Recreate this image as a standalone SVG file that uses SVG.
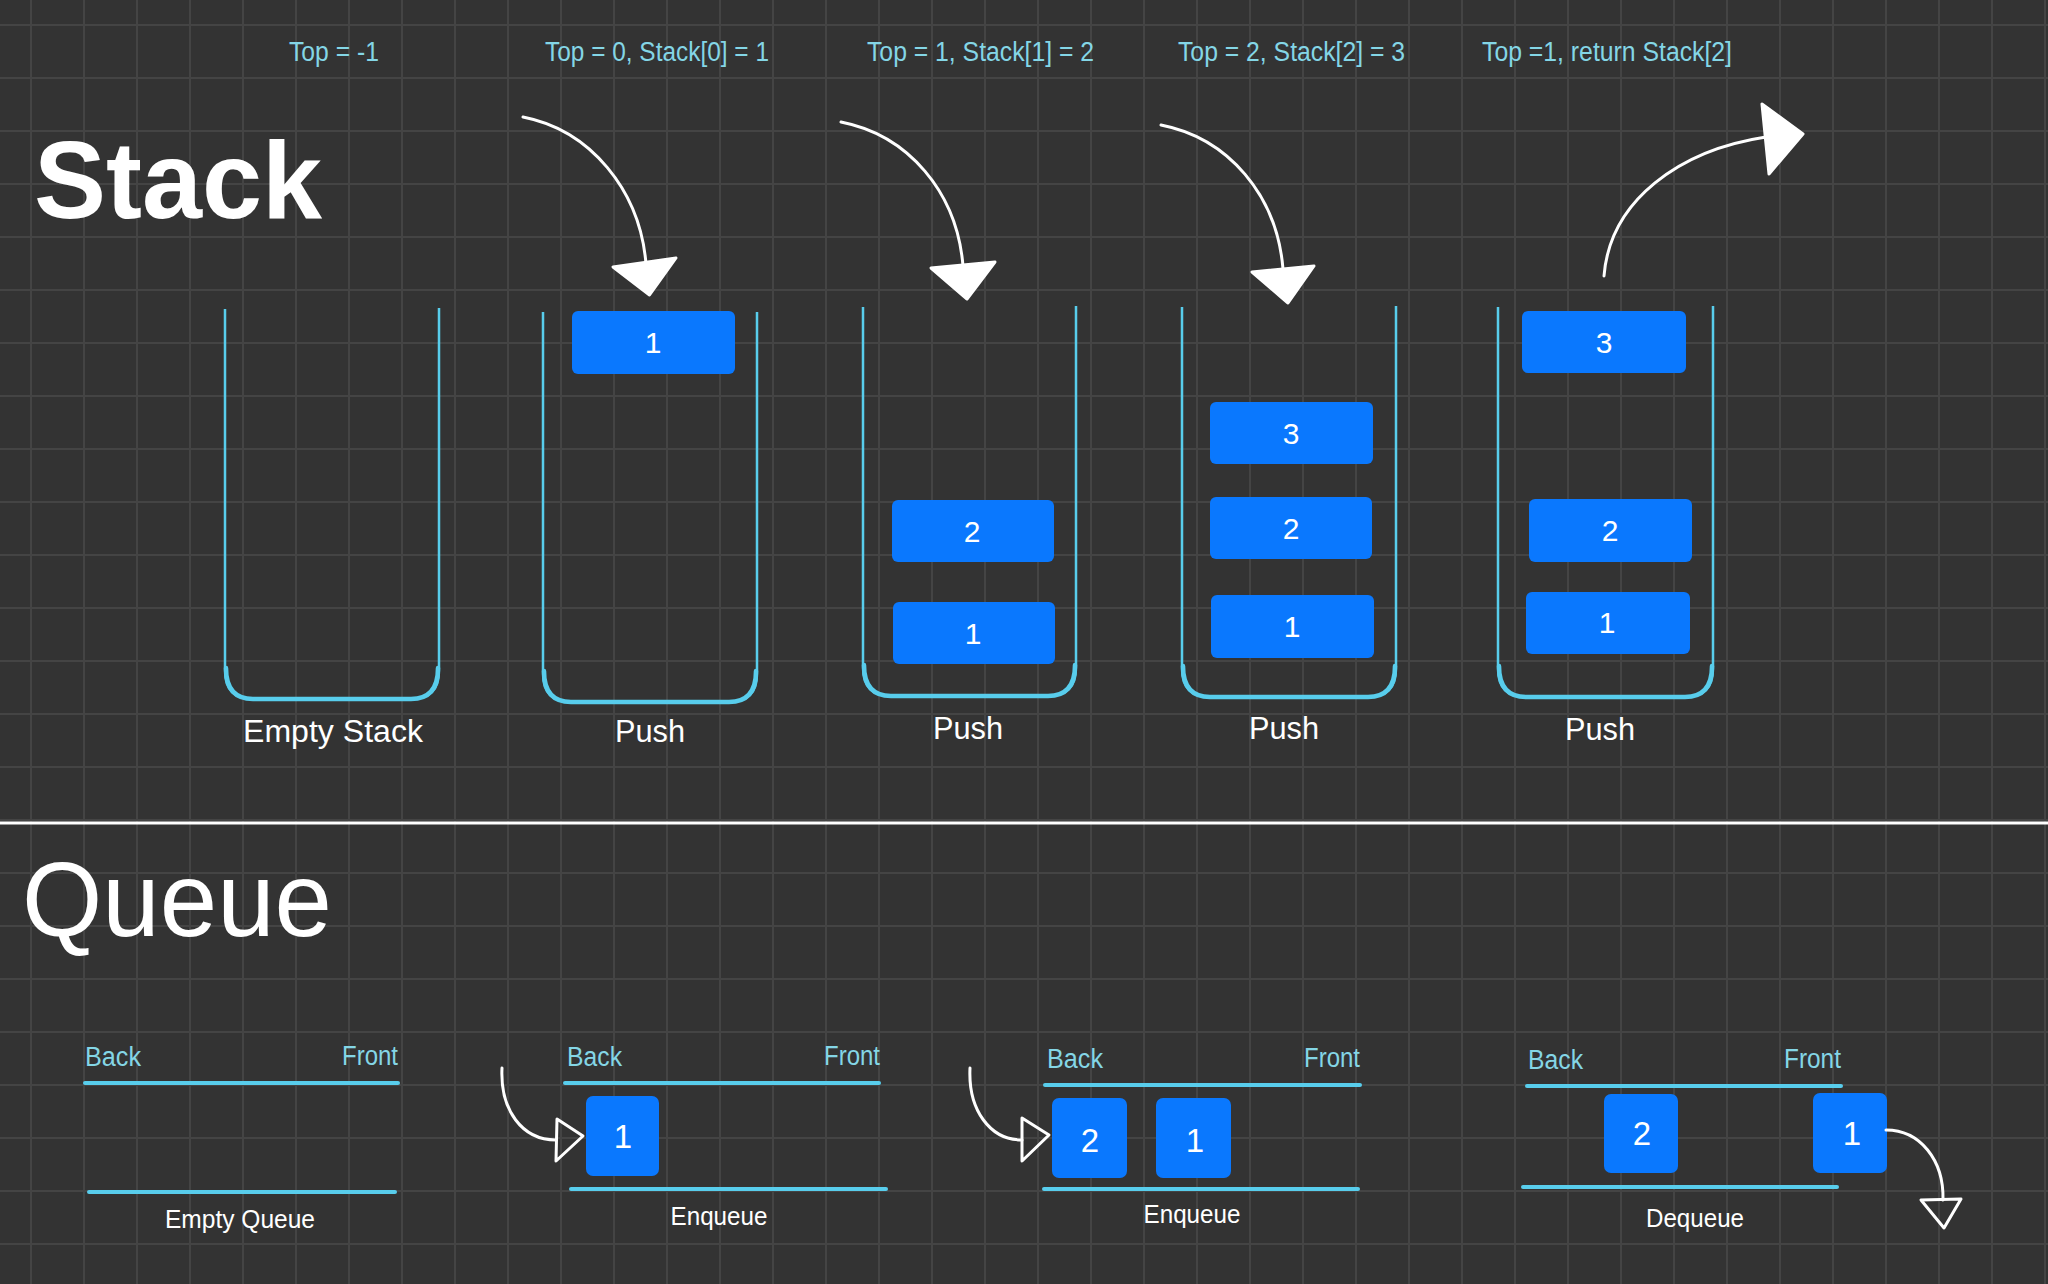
<svg xmlns="http://www.w3.org/2000/svg" width="2048" height="1284" viewBox="0 0 2048 1284">
<style>
.lbl{font-family:"Liberation Sans",Arial,sans-serif;fill:#84d6e6;font-size:27px}
.cap{font-family:"Liberation Sans",Arial,sans-serif;fill:#ffffff;font-size:32px;text-anchor:middle}
.qcap{font-family:"Liberation Sans",Arial,sans-serif;fill:#ffffff;font-size:25px;text-anchor:middle}
.ql{font-family:"Liberation Sans",Arial,sans-serif;fill:#84d6e6;font-size:27px}
.cont{fill:none;stroke:#58cdec;stroke-width:2.5;stroke-linejoin:round}
.base{fill:none;stroke:#58cdec;stroke-width:4.5;stroke-linejoin:round;stroke-linecap:round}
.qline{stroke:#58cdec;stroke-width:4;stroke-linecap:round}
.box{fill:#0a78fe}
.num{font-family:"Liberation Sans",Arial,sans-serif;fill:#ffffff;font-size:30px;text-anchor:middle}
.qnum{font-family:"Liberation Sans",Arial,sans-serif;fill:#ffffff;font-size:33px;text-anchor:middle}
.arr{fill:none;stroke:#ffffff;stroke-width:3;stroke-linecap:round}
.head{fill:#ffffff;stroke:#ffffff;stroke-width:3;stroke-linejoin:round}
.ohead{fill:none;stroke:#ffffff;stroke-width:3;stroke-linejoin:round}
</style>
<defs>
<pattern id="grid" patternUnits="userSpaceOnUse" x="30" y="24" width="53" height="53">
<rect x="0" y="0" width="53" height="2" fill="#444444"/>
<rect x="0" y="0" width="2" height="53" fill="#444444"/>
</pattern>
</defs>
<rect x="0" y="0" width="2048" height="1284" fill="#333333"/>
<rect x="0" y="0" width="2048" height="1284" fill="url(#grid)"/>

<g id="title-stack">
<text x="34" y="218" font-family="Liberation Sans,Arial,sans-serif" font-weight="bold" font-size="110" fill="#ffffff" textLength="288" lengthAdjust="spacingAndGlyphs">Stack</text>
</g>
<line id="separator" x1="0" y1="823" x2="2048" y2="823" stroke="#ffffff" stroke-width="3"/>
<g id="title-queue">
<text x="22" y="936" font-family="Liberation Sans,Arial,sans-serif" font-size="106" fill="#ffffff" textLength="310" lengthAdjust="spacingAndGlyphs">Queue</text>
</g>

<g id="stack-empty">
<text class="lbl" x="289" y="61" textLength="90" lengthAdjust="spacingAndGlyphs">Top = -1</text>
<path class="cont" d="M225,309 V671 Q225,699 253,699 H411 Q439,699 439,671 V308"/>
<path class="base" d="M226,668 Q226,699 253,699 H411 Q438,699 438,668"/>
<text class="cap" x="333" y="742" textLength="180" lengthAdjust="spacingAndGlyphs">Empty Stack</text>
</g>

<g id="stack-push1">
<text class="lbl" x="545" y="61" textLength="224" lengthAdjust="spacingAndGlyphs">Top = 0, Stack[0] = 1</text>
<path class="cont" d="M543,312 V674 Q543,702 571,702 H729 Q757,702 757,674 V312"/>
<path class="base" d="M544,671 Q544,702 571,702 H729 Q756,702 756,671"/>
<rect class="box" x="572" y="311" width="163" height="63" rx="6"/>
<text class="num" x="653" y="353">1</text>
<text class="cap" x="650" y="742" textLength="70" lengthAdjust="spacingAndGlyphs">Push</text>
</g>

<g id="stack-push2">
<text class="lbl" x="867" y="61" textLength="227" lengthAdjust="spacingAndGlyphs">Top = 1, Stack[1] = 2</text>
<path class="cont" d="M863,307 V668 Q863,696 891,696 H1048 Q1076,696 1076,668 V306"/>
<path class="base" d="M864,665 Q864,696 891,696 H1048 Q1075,696 1075,665"/>
<rect class="box" x="892" y="500" width="162" height="62" rx="6"/>
<text class="num" x="972" y="542">2</text>
<rect class="box" x="893" y="602" width="162" height="62" rx="6"/>
<text class="num" x="973" y="644">1</text>
<text class="cap" x="968" y="739" textLength="70" lengthAdjust="spacingAndGlyphs">Push</text>
</g>

<g id="stack-push3">
<text class="lbl" x="1178" y="61" textLength="227" lengthAdjust="spacingAndGlyphs">Top = 2, Stack[2] = 3</text>
<path class="cont" d="M1182,307 V669 Q1182,697 1210,697 H1368 Q1396,697 1396,669 V306"/>
<path class="base" d="M1183,666 Q1183,697 1210,697 H1368 Q1395,697 1395,666"/>
<rect class="box" x="1210" y="402" width="163" height="62" rx="6"/>
<text class="num" x="1291" y="444">3</text>
<rect class="box" x="1210" y="497" width="162" height="62" rx="6"/>
<text class="num" x="1291" y="539">2</text>
<rect class="box" x="1211" y="595" width="163" height="63" rx="6"/>
<text class="num" x="1292" y="637">1</text>
<text class="cap" x="1284" y="739" textLength="70" lengthAdjust="spacingAndGlyphs">Push</text>
</g>

<g id="stack-pop">
<text class="lbl" x="1482" y="61" textLength="250" lengthAdjust="spacingAndGlyphs">Top =1, return Stack[2]</text>
<path class="cont" d="M1498,307 V669 Q1498,697 1526,697 H1685 Q1713,697 1713,669 V306"/>
<path class="base" d="M1499,666 Q1499,697 1526,697 H1685 Q1712,697 1712,666"/>
<rect class="box" x="1522" y="311" width="164" height="62" rx="6"/>
<text class="num" x="1604" y="353">3</text>
<rect class="box" x="1529" y="499" width="163" height="63" rx="6"/>
<text class="num" x="1610" y="541">2</text>
<rect class="box" x="1526" y="592" width="164" height="62" rx="6"/>
<text class="num" x="1607" y="633">1</text>
<text class="cap" x="1600" y="740" textLength="70" lengthAdjust="spacingAndGlyphs">Push</text>
</g>

<g id="queue-empty">
<text class="ql" x="85" y="1066" textLength="56" lengthAdjust="spacingAndGlyphs">Back</text>
<text class="ql" x="342" y="1065" textLength="56" lengthAdjust="spacingAndGlyphs">Front</text>
<line class="qline" x1="85" y1="1083" x2="398" y2="1083"/>
<line class="qline" x1="89" y1="1192" x2="395" y2="1192"/>
<text class="qcap" x="240" y="1228" textLength="150" lengthAdjust="spacingAndGlyphs">Empty Queue</text>
</g>

<g id="queue-enqueue1">
<text class="ql" x="567" y="1066" textLength="55" lengthAdjust="spacingAndGlyphs">Back</text>
<text class="ql" x="824" y="1065" textLength="56" lengthAdjust="spacingAndGlyphs">Front</text>
<line class="qline" x1="565" y1="1083" x2="879" y2="1083"/>
<line class="qline" x1="571" y1="1189" x2="886" y2="1189"/>
<rect class="box" x="586" y="1096" width="73" height="80" rx="7"/>
<text class="qnum" x="623" y="1148">1</text>
<text class="qcap" x="719" y="1225" textLength="97" lengthAdjust="spacingAndGlyphs">Enqueue</text>
</g>

<g id="queue-enqueue2">
<text class="ql" x="1047" y="1068" textLength="56" lengthAdjust="spacingAndGlyphs">Back</text>
<text class="ql" x="1304" y="1067" textLength="56" lengthAdjust="spacingAndGlyphs">Front</text>
<line class="qline" x1="1045" y1="1085" x2="1360" y2="1085"/>
<line class="qline" x1="1044" y1="1189" x2="1358" y2="1189"/>
<rect class="box" x="1052" y="1098" width="75" height="80" rx="7"/>
<text class="qnum" x="1090" y="1152">2</text>
<rect class="box" x="1156" y="1098" width="75" height="80" rx="7"/>
<text class="qnum" x="1195" y="1152">1</text>
<text class="qcap" x="1192" y="1223" textLength="97" lengthAdjust="spacingAndGlyphs">Enqueue</text>
</g>

<g id="queue-dequeue">
<text class="ql" x="1528" y="1069" textLength="55" lengthAdjust="spacingAndGlyphs">Back</text>
<text class="ql" x="1784" y="1068" textLength="57" lengthAdjust="spacingAndGlyphs">Front</text>
<line class="qline" x1="1527" y1="1086" x2="1841" y2="1086"/>
<line class="qline" x1="1523" y1="1187" x2="1837" y2="1187"/>
<rect class="box" x="1604" y="1094" width="74" height="79" rx="7"/>
<text class="qnum" x="1642" y="1145">2</text>
<rect class="box" x="1813" y="1093" width="74" height="80" rx="7"/>
<text class="qnum" x="1852" y="1145">1</text>
<text class="qcap" x="1695" y="1227" textLength="98" lengthAdjust="spacingAndGlyphs">Dequeue</text>
</g>

<g id="connectors">
<path class="arr" d="M523,117 C590,130 640,190 646,264"/>
<polygon class="head" points="613,267 676,258 649.5,295"/>
<path class="arr" d="M841,122 C908,135 957,192 963,266"/>
<polygon class="head" points="931,268 995,262 967,299"/>
<path class="arr" d="M1161,125 C1228,138 1277,195 1283,269"/>
<polygon class="head" points="1252,272 1314,266 1288,303"/>
<path class="arr" d="M1604,276 C1610,200 1680,150 1766,137"/>
<polygon class="head" points="1762,104 1769,174 1803,134"/>
<path class="arr" d="M502,1068 C500,1110 522,1140 556,1140"/>
<polygon class="ohead" points="557,1119 556,1161 583,1136"/>
<path class="arr" d="M970,1068 C968,1110 990,1140 1022,1140"/>
<polygon class="ohead" points="1022,1118 1022,1161 1049,1135"/>
<path class="arr" d="M1886,1130 C1920,1130 1944,1160 1943,1200"/>
<polygon class="ohead" points="1921,1200 1961,1199 1944,1228"/>
</g>
</svg>
